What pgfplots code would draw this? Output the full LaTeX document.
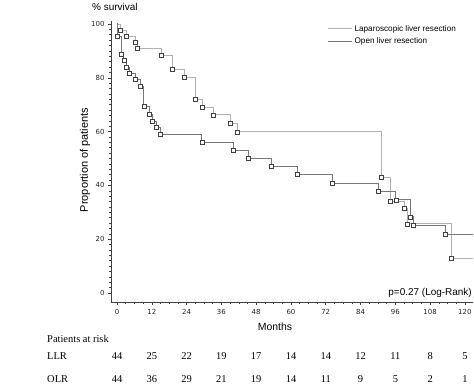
\documentclass[border=0pt]{standalone}
\usepackage{fontspec}
\setmainfont{Liberation Sans}
\newfontfamily\tnr{Liberation Serif}
\newfontfamily\dv{DejaVu Sans}
\usepackage{pgfplots}
\usepackage{pgfplotstable}
\pgfplotsset{compat=1.18}
\definecolor{llrc}{HTML}{B0B0B0}
\definecolor{olrc}{HTML}{787878}
\definecolor{axc}{HTML}{404040}

\pgfplotstableread{
t s
0 100
1.1 97.7
3.1 95.5
6.2 93.2
7.0 90.9
15.2 88.4
19.2 83.1
23.1 80.3
27.0 71.9
29.3 69.1
33.2 66.2
39.2 63.1
41.4 59.9
91.2 42.9
94.3 34.2
99.2 31.5
100.2 25.7
115.2 13.0
122.8 13.0
}\llr

\pgfplotstableread{
t s
0 100
0.2 95.4
1.4 88.7
2.4 86.4
3.3 84.0
4.2 81.7
6.2 79.5
8.2 76.8
9.3 69.2
11.1 66.4
12.2 63.9
13.6 61.5
15.1 58.9
29.3 56.0
40.1 52.9
45.3 50.1
53.3 47.2
62.3 44.0
74.4 40.8
90.3 37.8
96.2 34.6
101.3 28.3
102.3 25.2
113.4 21.9
122.8 21.9
}\olr

\begin{document}
\begin{tikzpicture}
\useasboundingbox (-111bp,-85bp) rectangle (363bp,302bp);
\begin{axis}[
  scale only axis, width=362bp, height=281bp,
  xmin=-2.07, xmax=122.8, ymin=-3.35, ymax=101.1,
  axis x line*=bottom, axis y line*=left,
  axis line style={axc, line width=0.6pt},
  xtick={0,12,...,120}, minor x tick num=3,
  ytick={0,20,...,100}, minor y tick num=9,
  tick align=outside,
  major tick length=3bp, minor tick length=1.6bp,
  every tick/.style={axc, line width=0.5pt},
  tick label style={font=\dv\fontsize{7}{8}\selectfont, text=black!85},
  /pgf/number format/assume math mode=true,
  xticklabel style={yshift=-1bp},
  legend style={at={(0.598,0.993)}, anchor=north west, draw=none, fill=none,
    font=\fontsize{8.2}{9.5}\selectfont, row sep=1bp, inner sep=0pt,
    cells={anchor=west}},
  legend image code/.code={\draw[#1] (0bp,0bp) -- (24bp,0bp);},
  clip=false,
]
\addplot[const plot, llrc, line width=0.85pt] table[x=t,y=s] {\llr};
\addlegendentry{Laparoscopic liver resection}
\addplot[const plot, olrc, line width=0.95pt] table[x=t,y=s] {\olr};
\addlegendentry{Open liver resection}
\addplot[forget plot, only marks, mark=square*, mark size=2bp,
  mark options={fill=white, draw=black!75, line width=0.65pt},
  restrict x to domain=0.05:122] table[x=t,y=s] {\llr};
\addplot[forget plot, only marks, mark=square*, mark size=2bp,
  mark options={fill=white, draw=black!75, line width=0.65pt},
  restrict x to domain=0.05:122] table[x=t,y=s] {\olr};
\end{axis}
% titles
\node[anchor=west, font=\fontsize{10}{12}\selectfont, inner sep=0pt] at (-19bp,295bp) {\% survival};
\node[rotate=90, font=\fontsize{11}{13}\selectfont, inner sep=0pt] at (-26bp,142bp) {Proportion of patients};
\node[font=\fontsize{10.5}{12}\selectfont, inner sep=0pt] at (164bp,-25bp) {Months};
\node[anchor=east, font=\fontsize{10}{12}\selectfont, inner sep=0pt] at (361bp,9bp) {p=0.27 (Log-Rank)};
% risk table
\node[anchor=west, font=\tnr\fontsize{10.5}{12}\selectfont, inner sep=0pt] at (-64bp,-37bp) {Patients at risk};
\node[anchor=west, font=\tnr\fontsize{10.5}{12}\selectfont, inner sep=0pt] at (-64bp,-54bp) {LLR};
\node[anchor=west, font=\tnr\fontsize{10.5}{12}\selectfont, inner sep=0pt] at (-64bp,-77.5bp) {OLR};
\foreach \m/\a/\b in {0/44/44,12/25/36,24/22/29,36/19/21,48/17/19,60/14/14,72/14/11,84/12/9,96/11/5,108/8/2,120/5/1}{
  \node[font=\tnr\fontsize{10.5}{12}\selectfont, inner sep=0pt] at ({6bp+2.9bp*\m},-54bp) {\a};
  \node[font=\tnr\fontsize{10.5}{12}\selectfont, inner sep=0pt] at ({6bp+2.9bp*\m},-77.5bp) {\b};
}
\end{tikzpicture}
\end{document}
